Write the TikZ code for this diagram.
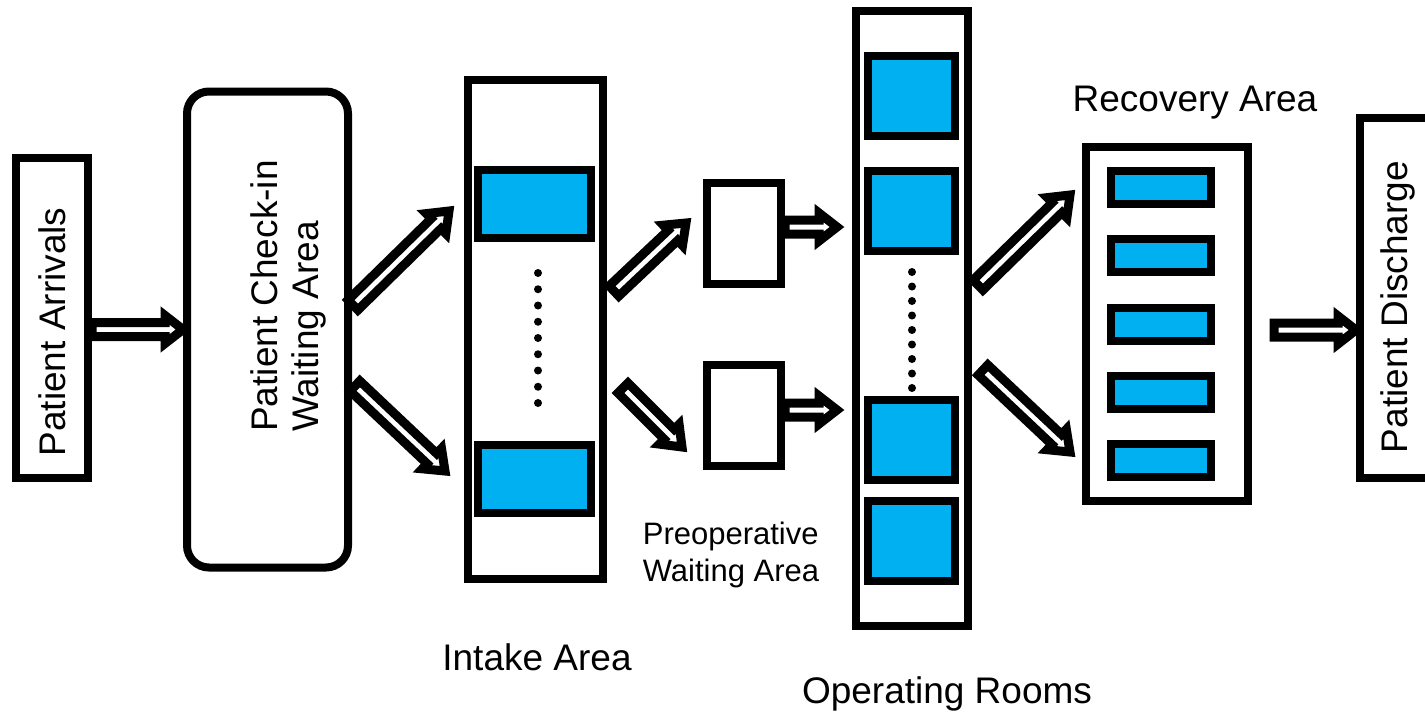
\documentclass[tikz,border=0pt]{standalone}
\usepackage{fontspec}
\setmainfont{Liberation Sans}
\usetikzlibrary{calc}

\definecolor{orblue}{HTML}{00B0F0}

\tikzset{
  flow/.style={draw=black, fill=white, line width=4.5pt, line join=miter,
    to path={let \p1=(\tikztostart), \p2=(\tikztotarget),
      \n1={atan2(\y2-\y1,\x2-\x1)}, \n2={veclen(\x2-\x1,\y2-\y1)-9pt} in
      ($(\p1)+({\n1+90}:3.5pt)$)
      -- ($(\p1)+(\n1:\n2)+({\n1+90}:3.5pt)$)
      -- ($(\p1)+(\n1:\n2)+({\n1+90}:7pt)$)
      -- (\p2)
      -- ($(\p1)+(\n1:\n2)+({\n1-90}:7pt)$)
      -- ($(\p1)+(\n1:\n2)+({\n1-90}:3.5pt)$)
      -- ($(\p1)+({\n1-90}:3.5pt)$) -- cycle}}
}

\begin{document}
\begin{tikzpicture}[x=0.5pt, y=-0.5pt,
    box/.style={draw, line width=4pt, inner sep=0pt},
    room/.style={box, fill=orblue},
    lbl/.style={font=\fontsize{18.5}{20.5}\selectfont, inner sep=0pt},
    sublbl/.style={font=\fontsize{15.5}{18.5}\selectfont, inner sep=0pt, align=left}]
  \useasboundingbox (0,0) rectangle (1425,713);

  % boxes
  \node[box, minimum width=36pt, minimum height=160pt] (arr) at (52,318) {};
  \node[box, rounded corners=11pt, minimum width=80.5pt, minimum height=238pt] (chk) at (267.5,329.5) {};
  \node[box, minimum width=67.5pt, minimum height=249.5pt] (intake) at (535.5,329.5) {};
  \node[box, minimum width=37pt, minimum height=50.5pt] (pre1) at (744,233) {};
  \node[box, minimum width=37pt, minimum height=50.5pt] (pre2) at (744,415) {};
  \node[box, minimum width=56pt, minimum height=307.5pt] (or) at (912,318.5) {};
  \node[box, minimum width=81pt, minimum height=177pt] (rec) at (1167,324) {};
  \node[box, minimum width=38pt, minimum height=180pt] (dis) at (1398,298) {};

  % rooms
  \node[room, minimum width=56.5pt, minimum height=34pt] (ib1) at (534.5,204) {};
  \node[room, minimum width=56.5pt, minimum height=34pt] (ib2) at (534.5,479) {};
  \foreach \yy [count=\k] in {96,210.5,440,541}
    \node[room, minimum width=43.5pt, minimum height=40pt] (ors\k) at (911.5,\yy) {};
  \foreach \k in {0,...,4}
    \node[room, minimum width=50pt, minimum height=16.5pt] (rb\k) at (1161,187.5+68.25*\k) {};

  \foreach \k in {0,...,8} {
    \fill (538,273+16.25*\k) circle (2pt);
    \fill (912,272+14.5*\k) circle (2pt);
  }

  % texts
  \node[lbl, rotate=90] (arrtxt) at (52,332) {Patient Arrivals};
  \node[lbl, rotate=90, align=left] (chktxt) at (288,296) {Patient Check-in\\Waiting Area};
  \node[lbl, rotate=90] (distxt) at (1398,307) {Patient Discharge};
  \node[lbl] (intaketxt) at (537,657) {Intake Area};
  \node[sublbl] (pretxt) at (731,555) {Preoperative\\Waiting Area};
  \node[lbl] (ortxt) at (947,694) {Operating Rooms};
  \node[lbl] (rectxt) at (1195,103) {Recovery Area};

  % arrows
  \draw[flow] (arr.east |- chk.west) to (chk.west);
  \draw[flow] ($(chk.east)+(1,-24.5)$) to ($(intake.west)+(-15,-118.5)$);
  \draw[flow] ($(chk.east)+(3,56.5)$) to ($(intake.west)+(-19,141.5)$);
  \draw[flow] ($(intake.east)+(7,-38.5)$) to ($(pre1.west)+(-17,-10)$);
  \draw[flow] ($(intake.east)+(16,58.5)$) to ($(pre2.west)+(-21,32)$);
  \draw[flow] ($(pre1.east)+(0,-6)$) to ($(pre1.east -| or.west)+(-15,-6)$);
  \draw[flow] ($(pre2.east)+(0,-5)$) to ($(pre2.east -| or.west)+(-15,-5)$);
  \draw[flow] ($(or.east)+(6,-33.5)$) to ($(rec.west)+(-12,-129)$);
  \draw[flow] ($(or.east)+(11,51.5)$) to ($(rec.west)+(-12,128)$);
  \draw[flow] ($(rec.east)+(22,6)$) to ($(dis.west)+(0,32)$);
\end{tikzpicture}
\end{document}
